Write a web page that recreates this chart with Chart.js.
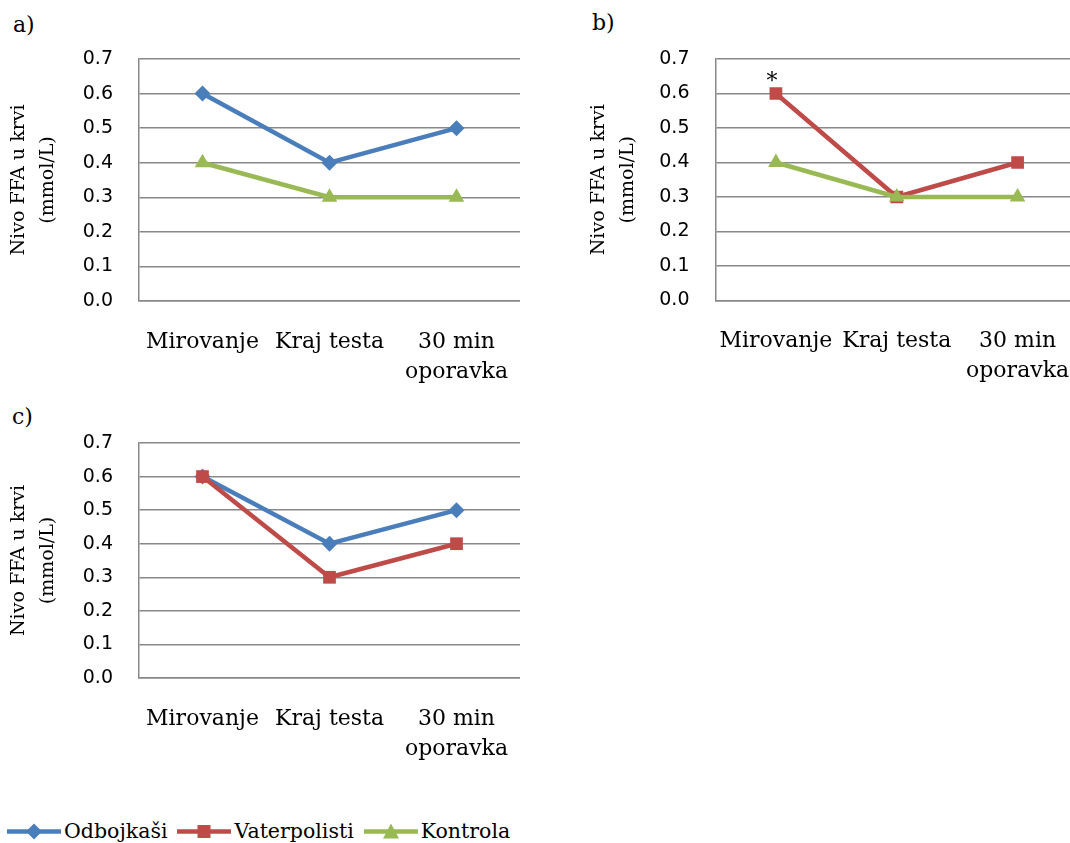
<!DOCTYPE html>
<html>
<head>
<meta charset="utf-8">
<script src="https://cdn.jsdelivr.net/npm/chart.js@4/dist/chart.umd.min.js"></script>
<style>
    html, body { margin: 0; padding: 0; width: 1070px; height: 843px; overflow: hidden; background: #fff; }
    canvas { position: absolute; }
    .panel { position: absolute; font-family: "DejaVu Serif", serif; font-size: 22px; color: #000; line-height: 1.15; }
    #legend { position: absolute; left: 7px; top: 819px; display: flex; align-items: center; font-family: "DejaVu Serif", serif; font-size: 20.5px; color: #000; }
    #legend .item { display: flex; align-items: center; margin-right: 10px; }
    #legend svg { margin-right: 3px; }
</style>
</head>
<body>
<div class="panel" style="left:13px; top:12px;">a)</div>
<div class="panel" style="left:592px; top:10px;">b)</div>
<div class="panel" style="left:12px; top:404px;">c)</div>

<canvas id="chartA" width="520" height="390" style="left:0px; top:0px;"></canvas>
<canvas id="chartB" width="498" height="390" style="left:580px; top:0px;"></canvas>
<canvas id="chartC" width="520" height="390" style="left:0px; top:384px;"></canvas>

<div id="legend"></div>

<script>
    // categories and tick labels
    const categories = ['Mirovanje', 'Kraj testa', ['30 min', 'oporavka']];
    const yTitle = ['Nivo FFA u krvi', '(mmol/L)'];
    const yMin = 0, yMax = 0.7, yStep = 0.1;

    // series values, per panel
    const odbojkasiA = [0.6, 0.4, 0.5];
    const kontrolaA = [0.4, 0.3, 0.3];
    const vaterpolistiB = [0.6, 0.3, 0.4];
    const kontrolaB = [0.4, 0.3, 0.3];
    const odbojkasiC = [0.6, 0.4, 0.5];
    const vaterpolistiC = [0.6, 0.3, 0.4];

    // significance mark on panel b (category index, value)
    const starB = { index: 0, value: 0.6, text: '*' };

    const series = {
        odbojkasi: { label: 'Odbojkaši', color: '#4A7EBB', point: 'rectRot', radius: 8, order: 3 },
        vaterpolisti: { label: 'Vaterpolisti', color: '#BE4B48', point: 'rect', radius: 9, order: 2 },
        kontrola: { label: 'Kontrola', color: '#98B954', point: 'triangle', radius: 9, order: 1 }
    };

    Chart.defaults.devicePixelRatio = 1;
    Chart.defaults.color = '#000';

    function makeDataset(key, values) {
        const s = series[key];
        return {
            label: s.label,
            data: values,
            borderColor: s.color,
            backgroundColor: s.color,
            borderWidth: 4.5,
            pointStyle: s.point,
            pointRadius: s.radius,
            pointBorderWidth: 0,
            pointBackgroundColor: s.color,
            tension: 0,
            order: s.order
        };
    }

    const starPlugin = {
        id: 'star',
        afterDatasetsDraw(chart, args, opts) {
            if (!opts || !opts.text) return;
            const ctx = chart.ctx;
            const x = chart.scales.x.getPixelForValue(opts.index);
            const y = chart.scales.y.getPixelForValue(opts.value);
            ctx.save();
            ctx.fillStyle = '#000';
            ctx.font = '22px "DejaVu Serif", serif';
            ctx.textAlign = 'center';
            ctx.textBaseline = 'middle';
            ctx.fillText(opts.text, x - 4, y - 11);
            ctx.restore();
        }
    };

    function makeChart(id, datasets, yWidth, xHeight, star) {
        const ctx = document.getElementById(id);
        return new Chart(ctx.getContext('2d'), {
            type: 'line',
            data: { labels: categories, datasets: datasets },
            plugins: [starPlugin],
            options: {
                responsive: false,
                animation: false,
                layout: { autoPadding: false, padding: { top: 59, right: 0, bottom: 0, left: 0 } },
                plugins: {
                    legend: { display: false },
                    tooltip: { enabled: false },
                    star: star || {}
                },
                scales: {
                    x: {
                        offset: true,
                        grid: { display: false, drawTicks: false },
                        border: { display: true, color: '#888', width: 1.5 },
                        ticks: {
                            padding: 26,
                            maxRotation: 0,
                            autoSkip: false,
                            font: { family: '"DejaVu Serif", serif', size: 22, lineHeight: 1.36 }
                        },
                        afterFit(scale) {
                            scale.height = xHeight;
                            scale.paddingLeft = 0;
                            scale.paddingRight = 0;
                        }
                    },
                    y: {
                        min: yMin,
                        max: yMax,
                        grid: { color: '#888', lineWidth: 1.5, drawTicks: false },
                        border: { display: true, color: '#888', width: 1.5 },
                        ticks: {
                            stepSize: yStep,
                            padding: 26,
                            font: { family: '"DejaVu Sans", sans-serif', size: 19 },
                            callback: v => Number(v).toFixed(1)
                        },
                        title: {
                            display: true,
                            text: yTitle,
                            padding: { top: 5, bottom: 0 },
                            font: { family: '"DejaVu Serif", serif', size: 19, lineHeight: 1.5 }
                        },
                        afterFit(scale) { scale.width = yWidth; }
                    }
                }
            }
        });
    }

    makeChart('chartA', [
        makeDataset('odbojkasi', odbojkasiA),
        makeDataset('kontrola', kontrolaA)
    ], 139, 89);

    makeChart('chartB', [
        makeDataset('vaterpolisti', vaterpolistiB),
        makeDataset('kontrola', kontrolaB)
    ], 135.5, 89.5, starB);

    makeChart('chartC', [
        makeDataset('odbojkasi', odbojkasiC),
        makeDataset('vaterpolisti', vaterpolistiC)
    ], 139, 96);

    // shared legend
    function markerSvg(s) {
        let m = '';
        if (s.point === 'rectRot') {
            m = `<polygon points="27,2.5 35,10.5 27,18.5 19,10.5" fill="${s.color}"/>`;
        } else if (s.point === 'rect') {
            m = `<rect x="20.5" y="4" width="13" height="13" fill="${s.color}"/>`;
        } else {
            m = `<polygon points="27,2.5 35,17.5 19,17.5" fill="${s.color}"/>`;
        }
        return `<svg width="54" height="21" viewBox="0 0 54 21"><line x1="0" y1="10.5" x2="54" y2="10.5" stroke="${s.color}" stroke-width="4.5"/>${m}</svg>`;
    }

    const legend = document.getElementById('legend');
    ['odbojkasi', 'vaterpolisti', 'kontrola'].forEach(key => {
        const s = series[key];
        const div = document.createElement('div');
        div.className = 'item';
        div.innerHTML = markerSvg(s) + '<span>' + s.label + '</span>';
        legend.appendChild(div);
    });
</script>
</body>
</html>
